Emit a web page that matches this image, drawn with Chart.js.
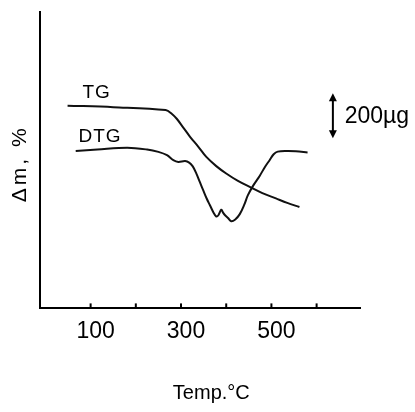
<!DOCTYPE html>
<html>
<head>
<meta charset="utf-8">
<script src="https://cdn.jsdelivr.net/npm/chart.js@4"></script>
<style>
html, body { margin: 0; padding: 0; background: #fff; }
#contenedor { width: 415px; height: 412px; position: relative; }
</style>
</head>
<body>
<div id="contenedor"><canvas id="grafico"></canvas></div>
<script>
// Datos
const tgTemp  = [49, 150, 266, 280, 291, 305, 320, 338, 356, 378, 400, 425, 452, 480, 510, 535, 562];
const tgMasa  = [68.4, 67.9, 66.9, 65.6, 63.9, 61.0, 57.9, 54.6, 51.1, 48.0, 45.5, 43.1, 41.0, 38.9, 37.1, 35.6, 34.2];
const dtgTemp = [67, 115, 181, 225, 250, 269, 283, 294, 309, 318, 326, 334, 342, 349, 357, 364, 372, 378, 383, 389, 393, 397, 404, 411, 420, 430, 440, 448, 460, 474, 486, 496, 505, 514, 535, 554, 580];
const dtgValor = [53.1, 53.6, 54.2, 53.6, 52.8, 51.7, 50.0, 49.4, 49.7, 49.2, 47.9, 45.5, 42.5, 39.9, 37.0, 34.8, 32.3, 31.0, 31.5, 33.3, 32.3, 31.5, 30.5, 29.4, 30.0, 31.8, 35.0, 38.2, 41.5, 44.7, 47.8, 50.0, 52.0, 52.9, 53.1, 53.0, 52.6];
const tickTemp = [100, 200, 300, 400, 500, 600];
const tickLabels = ['100', '', '300', '', '500', ''];
const tituloX = 'Temp.°C';
const tituloY = 'Δm, %';
const etiquetas = ['TG', 'DTG'];
const escalaTexto = '200µg';

const fuente = "'Liberation Sans', Arial, sans-serif";

const aPuntos = (xs, ys) => xs.map((x, i) => ({ x: x, y: ys[i] }));

// Plugin para marcas del eje, titulos y anotaciones
const anotaciones = {
    id: 'anotaciones',
    afterDraw(chart) {
        const ctx = chart.ctx;
        const sx = chart.scales.x;
        const sy = chart.scales.y;
        const area = chart.chartArea;
        ctx.save();
        ctx.strokeStyle = '#000';
        ctx.fillStyle = '#000';
        ctx.lineWidth = 2;

        // marcas hacia adentro sobre el eje x
        tickTemp.forEach(t => {
            const px = sx.getPixelForValue(t);
            ctx.beginPath();
            ctx.moveTo(px, area.bottom);
            ctx.lineTo(px, area.bottom - 5);
            ctx.stroke();
        });

        // etiquetas de las curvas
        ctx.font = '19px ' + fuente;
        ctx.letterSpacing = '1px';
        ctx.textAlign = 'left';
        ctx.textBaseline = 'alphabetic';
        ctx.fillText(etiquetas[0], sx.getPixelForValue(82), sy.getPixelForValue(71));
        ctx.fillText(etiquetas[1], sx.getPixelForValue(73), sy.getPixelForValue(56.2));

        // barra de escala con flechas
        const ax = sx.getPixelForValue(636);
        const ay1 = sy.getPixelForValue(72.6);
        const ay2 = sy.getPixelForValue(57.4);
        ctx.beginPath();
        ctx.moveTo(ax, ay1 + 4);
        ctx.lineTo(ax, ay2 - 4);
        ctx.stroke();
        ctx.beginPath();
        ctx.moveTo(ax, ay1);
        ctx.lineTo(ax - 4, ay1 + 8);
        ctx.lineTo(ax + 4, ay1 + 8);
        ctx.closePath();
        ctx.fill();
        ctx.beginPath();
        ctx.moveTo(ax, ay2);
        ctx.lineTo(ax - 4, ay2 - 8);
        ctx.lineTo(ax + 4, ay2 - 8);
        ctx.closePath();
        ctx.fill();

        ctx.font = '23px ' + fuente;
        ctx.letterSpacing = '0px';
        ctx.fillText(escalaTexto, sx.getPixelForValue(662), sy.getPixelForValue(62.5));

        // titulo eje x
        ctx.font = '20px ' + fuente;
        ctx.letterSpacing = '0px';
        ctx.textAlign = 'center';
        ctx.fillText(tituloX, sx.getPixelForValue(367), 399);

        // titulo eje y
        ctx.translate(20, sy.getPixelForValue(48.8));
        ctx.rotate(-Math.PI / 2);
        ctx.font = '21px ' + fuente;
        ctx.letterSpacing = '3px';
        ctx.textBaseline = 'middle';
        ctx.fillText(tituloY, 0, 0);
        ctx.restore();
    }
};

Chart.defaults.font.family = fuente;
Chart.defaults.color = '#000';

const grafico = new Chart(document.getElementById('grafico'), {
    type: 'line',
    data: {
        datasets: [
            {
                label: etiquetas[0],
                data: aPuntos(tgTemp, tgMasa),
                borderColor: '#111',
                borderWidth: 2,
                pointRadius: 0,
                tension: 0.35,
                fill: false
            },
            {
                label: etiquetas[1],
                data: aPuntos(dtgTemp, dtgValor),
                borderColor: '#111',
                borderWidth: 2,
                pointRadius: 0,
                tension: 0.35,
                fill: false
            }
        ]
    },
    options: {
        responsive: true,
        maintainAspectRatio: false,
        animation: false,
        layout: { padding: { left: 32, top: 12, right: 55, bottom: 66 } },
        plugins: { legend: { display: false }, tooltip: { enabled: false } },
        scales: {
            x: {
                type: 'linear',
                min: -12,
                max: 696,
                afterBuildTicks: (scale) => {
                    scale.ticks = tickTemp.map(v => ({ value: v }));
                },
                ticks: {
                    autoSkip: false,
                    maxRotation: 0,
                    padding: 1,
                    labelOffset: 5,
                    font: { size: 23 },
                    callback: (v, i) => tickLabels[i]
                },
                grid: { display: false },
                border: { display: true, color: '#000', width: 2 }
            },
            y: {
                min: 0,
                max: 100,
                ticks: { display: false },
                grid: { display: false },
                border: { display: true, color: '#000', width: 2 }
            }
        }
    },
    plugins: [anotaciones]
});
</script>
</body>
</html>
